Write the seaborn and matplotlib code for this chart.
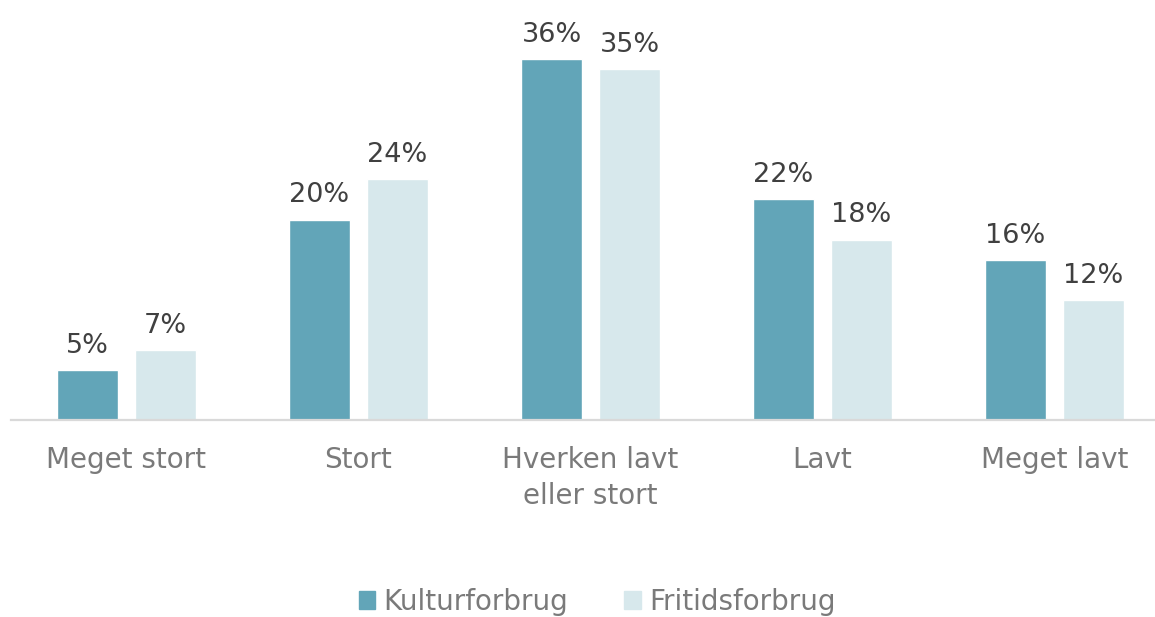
import pandas as pd
import matplotlib.pyplot as plt
import seaborn as sns

# data
categories = ["Meget stort", "Stort", "Hverken lavt\neller stort", "Lavt", "Meget lavt"]
kultur = [5, 20, 36, 22, 16]
fritid = [7, 24, 35, 18, 12]
series = ["Kulturforbrug", "Fritidsforbrug"]
colors = ["#62A5B8", "#D7E8EC"]

df = pd.DataFrame({
    "kategori": categories * 2,
    "andel": kultur + fritid,
    "serie": [series[0]] * len(categories) + [series[1]] * len(categories),
})

sns.set_style("white")
plt.rcParams["font.family"] = ["DejaVu Sans"]

fig = plt.figure(figsize=(11.55, 6.17), dpi=100)
ax = fig.add_axes([10.5 / 1155, 197 / 617, 1160 / 1155, 420 / 617])

sns.barplot(data=df, x="kategori", y="andel", hue="serie", palette=colors,
            saturation=1, width=0.672, gap=0.22, ax=ax, legend=False)

for c in ax.containers:
    ax.bar_label(c, fmt="%d%%", padding=8, fontsize=19.5, color="#404040")

ax.set_xlim(-0.5, 4.5)
ax.set_ylim(0, 41.9)
ax.set_xlabel("")
ax.set_ylabel("")
ax.set_yticks([])
ax.tick_params(axis="x", length=0, pad=19, labelsize=20, labelcolor="#7a7a7a")
for lbl in ax.get_xticklabels():
    lbl.set_linespacing(1.35)
for s in ["top", "right", "left"]:
    ax.spines[s].set_visible(False)
ax.spines["bottom"].set_color("#d9d9d9")
ax.spines["bottom"].set_linewidth(1.6)

handles = [plt.Rectangle((0, 0), 1, 1, color=col) for col in colors]
fig.legend(handles, series, loc="center", bbox_to_anchor=(0.517, 0.025), ncol=2,
           frameon=False, fontsize=20, labelcolor="#7a7a7a", handlelength=0.6,
           handleheight=0.6, handletextpad=0.3, columnspacing=2.0)

fig.savefig("out.png", dpi=100)
